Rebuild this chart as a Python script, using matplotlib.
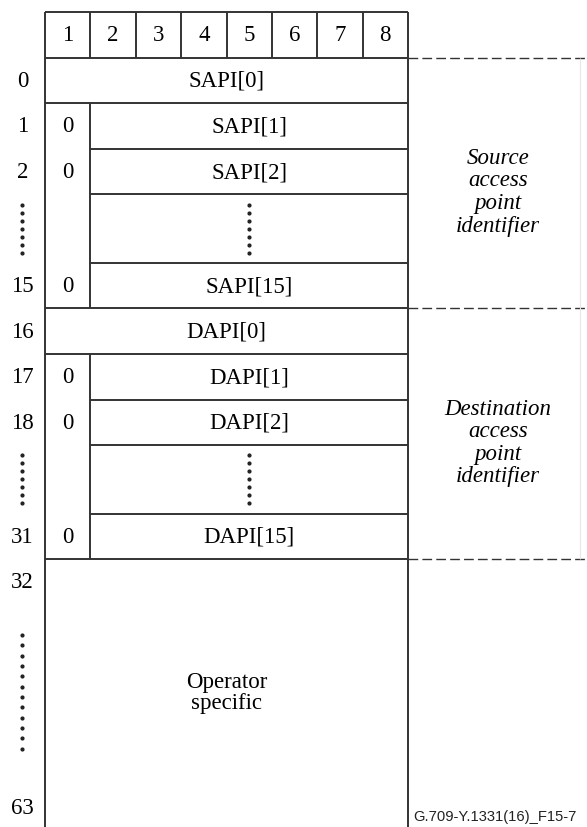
import matplotlib.pyplot as plt

# bit numbers in the header row
bits = ['1', '2', '3', '4', '5', '6', '7', '8']

# octet rows of the table ('' label = row of dots)
row_labels = ['0', '1', '2', '', '15', '16', '17', '18', '', '31']
row_heights = [1, 1, 1, 1.5, 1, 1, 1, 1, 1.5, 1]
fields = ['SAPI[0]', 'SAPI[1]', 'SAPI[2]', '', 'SAPI[15]',
          'DAPI[0]', 'DAPI[1]', 'DAPI[2]', '', 'DAPI[15]']
first_bit = ['', '0', '0', '', '0', '', '0', '0', '', '0']
full_row = [True, False, False, False, False, True, False, False, False, False]

# right hand side descriptions, one per block of 5 rows
groups = ['Source\naccess\npoint\nidentifier',
          'Destination\naccess\npoint\nidentifier']
group_rows = [5, 5]

op_labels = ['32', '63']
op_text = 'Operator\nspecific'
fig_id = 'G.709-Y.1331(16)_F15-7'

serif = 'Liberation Serif'
lc = '#333333'
lw = 1.4
fs = 16.5

fig = plt.figure(figsize=(5.87, 8.27), dpi=100)
ax = fig.add_axes([0, 0, 1, 1])
ax.set_xlim(-45 / 45.375, 542 / 45.375)
ax.set_ylim(815 / 45.6, -12 / 45.6)
ax.axis('off')
xmax = 542 / 45.375
ybot = 815 / 45.6

# header
ax.hlines([0, 1], 0, 8, color=lc, lw=lw)
ax.vlines(range(1, 8), 0, 1, color=lc, lw=lw)
for i, b in enumerate(bits):
    ax.text(i + 0.5, 0.52, b, ha='center', va='center', family=serif, fontsize=fs)

# outer borders run down to the bottom of the picture
ax.vlines([0, 8], 0, ybot, color=lc, lw=lw)


def dots(x, yc, n, step):
    ys = [yc + (k - (n - 1) / 2) * step for k in range(n)]
    ax.scatter([x] * n, ys, s=4, color='#222222', zorder=3)


y = 1
n = len(row_labels)
for i in range(n):
    top, bot = y, y + row_heights[i]
    mid = (top + bot) / 2
    # bottom line of the row
    last = i == n - 1
    x0 = 0 if (full_row[i] or last or full_row[i + 1]) else 1
    ax.hlines(bot, x0, 8, color=lc, lw=lw)
    if not full_row[i]:
        ax.vlines(1, top, bot, color=lc, lw=lw)
    if row_labels[i]:
        ax.text(-0.5, mid + 0.02, row_labels[i], ha='center', va='center',
                family=serif, fontsize=fs)
        xc = 4 if full_row[i] else 4.5
        ax.text(xc, mid + 0.02, fields[i], ha='center', va='center',
                family=serif, fontsize=fs)
        if first_bit[i]:
            ax.text(0.5, mid + 0.02, first_bit[i], ha='center', va='center',
                    family=serif, fontsize=fs)
    else:
        dots(-0.5, mid, 7, 0.175)
        dots(4.5, mid, 7, 0.175)
    y = bot

# descriptions on the right, with dashed separators
yb = 1
start = 0
ax.hlines(yb, 8, xmax, color=lc, lw=1.0, linestyles=(0, (7, 3)))
for g, k in zip(groups, group_rows):
    ye = yb + sum(row_heights[start:start + k])
    start += k
    ax.text(9.98, (yb + ye) / 2 + 0.2, g, ha='center', va='center',
            family=serif, style='italic', fontsize=16.5, linespacing=1.1)
    ax.hlines(ye, 8, xmax, color=lc, lw=1.0, linestyles=(0, (7, 3)))
    yb = ye
ax.vlines(11.79, 1, y, color='#e6e6e6', lw=0.8)

# operator specific area
ax.text(-0.5, y + 0.5, op_labels[0], ha='center', va='center', family=serif, fontsize=fs)
ax.text(-0.5, 17.46, op_labels[1], ha='center', va='center', family=serif, fontsize=fs)
dots(-0.5, 14.91, 12, 0.227)
ax.text(4, 14.93, op_text, ha='center', va='center', family=serif,
        fontsize=fs, linespacing=1.0)

ax.text(8.11, 17.8, fig_id, ha='left', va='bottom', family='Liberation Sans',
        fontsize=10.6, color='#222222')

fig.savefig('out.png', dpi=100)
